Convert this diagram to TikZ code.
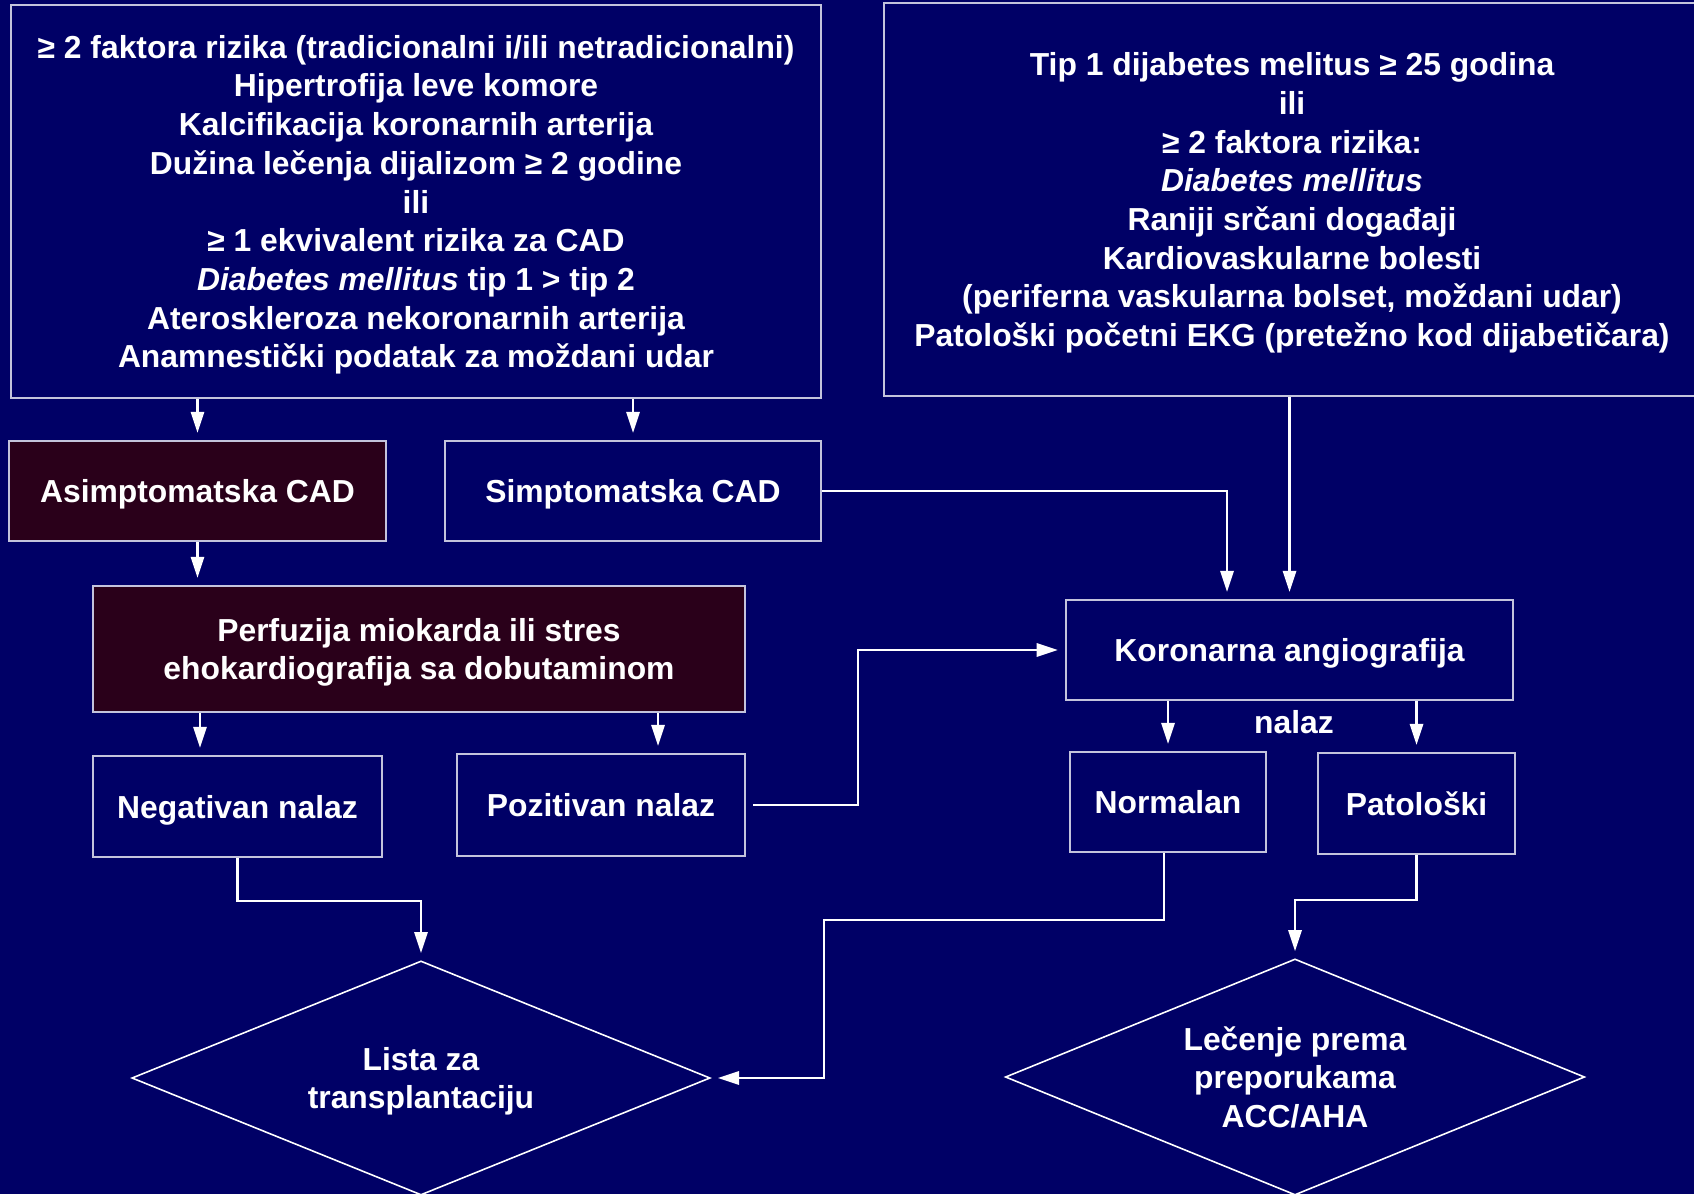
\documentclass[tikz,border=0pt]{standalone}
\usepackage{fontspec}
\setmainfont{Liberation Sans}
\definecolor{slidebg}{RGB}{0,0,102}
\definecolor{boxdark}{RGB}{42,0,26}
\definecolor{boxline}{RGB}{195,195,220}
\usetikzlibrary{shapes.geometric, arrows.meta}

\begin{document}
\begin{tikzpicture}[x=0.01cm, y=-0.01cm,
  every node/.style={text=white, font=\fontsize{9.05}{11}\selectfont\bfseries, align=center, text depth=0pt},
  box/.style={draw=boxline, line width=0.6pt, fill=slidebg, inner sep=0pt},
  darkbox/.style={box, fill=boxdark},
  decision/.style={diamond, aspect=2.47, draw=white, line width=0.45pt, inner sep=0pt},
  arr/.style={draw=white, line width=0.6pt, -{Triangle[length=6pt,width=3.8pt]}, shorten >=2pt}]
  \fill[slidebg] (0,0) rectangle (1694,1194);
  \useasboundingbox (0,0) rectangle (1694,1194);

  \node[box, minimum width=8.1cm, minimum height=3.93cm] (crit) at (416,201.5)
    {≥ 2 faktora rizika (tradicionalni i/ili netradicionalni)\\
     Hipertrofija leve komore\\
     Kalcifikacija koronarnih arterija\\
     Dužina lečenja dijalizom ≥ 2 godine\\
     ili\\
     ≥ 1 ekvivalent rizika za CAD\\
     \textit{Diabetes mellitus} tip 1 > tip 2\\
     Ateroskleroza nekoronarnih arterija\\
     Anamnestički podatak za moždani udar};
  \node[box, minimum width=8.16cm, minimum height=3.93cm] (tipdm) at (1292,199.5)
    {Tip 1 dijabetes melitus ≥ 25 godina\\
     ili\\
     ≥ 2 faktora rizika:\\
     \textit{Diabetes mellitus}\\
     Raniji srčani događaji\\
     Kardiovaskularne bolesti\\
     (periferna vaskularna bolset, moždani udar)\\
     Patološki početni EKG (pretežno kod dijabetičara)};

  \node[darkbox, minimum width=3.77cm, minimum height=1cm] (asim) at (197.5,491) {Asimptomatska CAD};
  \node[box, minimum width=3.76cm, minimum height=1cm] (simpt) at (633,491) {Simptomatska CAD};
  \node[darkbox, minimum width=6.52cm, minimum height=1.26cm] (perf) at (419,649)
    {Perfuzija miokarda ili stres\\ehokardiografija sa dobutaminom};
  \node[box, minimum width=2.89cm, minimum height=1.01cm] (neg) at (237.5,806.5) {Negativan nalaz};
  \node[box, minimum width=2.88cm, minimum height=1.02cm] (poz) at (601,805) {Pozitivan nalaz};
  \node[box, minimum width=4.47cm, minimum height=1cm] (koron) at (1289.5,650) {Koronarna angiografija};
  \node[box, minimum width=1.96cm, minimum height=1cm] (normal) at (1168,802) {Normalan};
  \node[box, minimum width=1.97cm, minimum height=1.01cm] (patol) at (1416.5,803.5) {Patološki};
  \node (nalaz) at (1294,722) {nalaz};
  \node[decision, minimum width=5.78cm, minimum height=2.34cm] (lista) at (421,1078)
    {Lista za\\transplantaciju};
  \node[decision, minimum width=5.79cm, minimum height=2.36cm] (lecenje) at (1295,1077)
    {Lečenje prema\\preporukama\\ACC/AHA};

  \coordinate (negx) at (200,0);
  \coordinate (pozx) at (658,0);
  \coordinate (simx) at (1227,0);
  \coordinate (posx) at (858,0);
  \coordinate (retx) at (824,0);
  \coordinate (normx) at (1164,0);

  \draw[arr] (crit.south -| asim.north) -- (asim.north);
  \draw[arr] (crit.south -| simpt.north) -- (simpt.north);
  \draw[arr] (asim.south) -- (perf.north -| asim.south);
  \draw[arr] (perf.south -| negx) -- (neg.north -| negx);
  \draw[arr] (perf.south -| pozx) -- (poz.north -| pozx);
  \draw[arr] (simpt.east) -| (koron.north -| simx);
  \draw[arr] (tipdm.south -| koron.north) -- (koron.north);
  \draw[arr, shorten <=2pt] (poz.east) -- (poz.east -| posx) |- (koron.west);
  \draw[arr] (koron.south -| normal.north) -- (normal.north);
  \draw[arr] (koron.south -| patol.north) -- (patol.north);
  \draw[arr] (neg.south) -- ++(0,43) -| (lista.north);
  \draw[arr] (normal.south -| normx) -- ++(0,67) -| (retx |- lista.east) -- (lista.east);
  \draw[arr] (patol.south) -- ++(0,45) -| (lecenje.north);
\end{tikzpicture}
\end{document}
